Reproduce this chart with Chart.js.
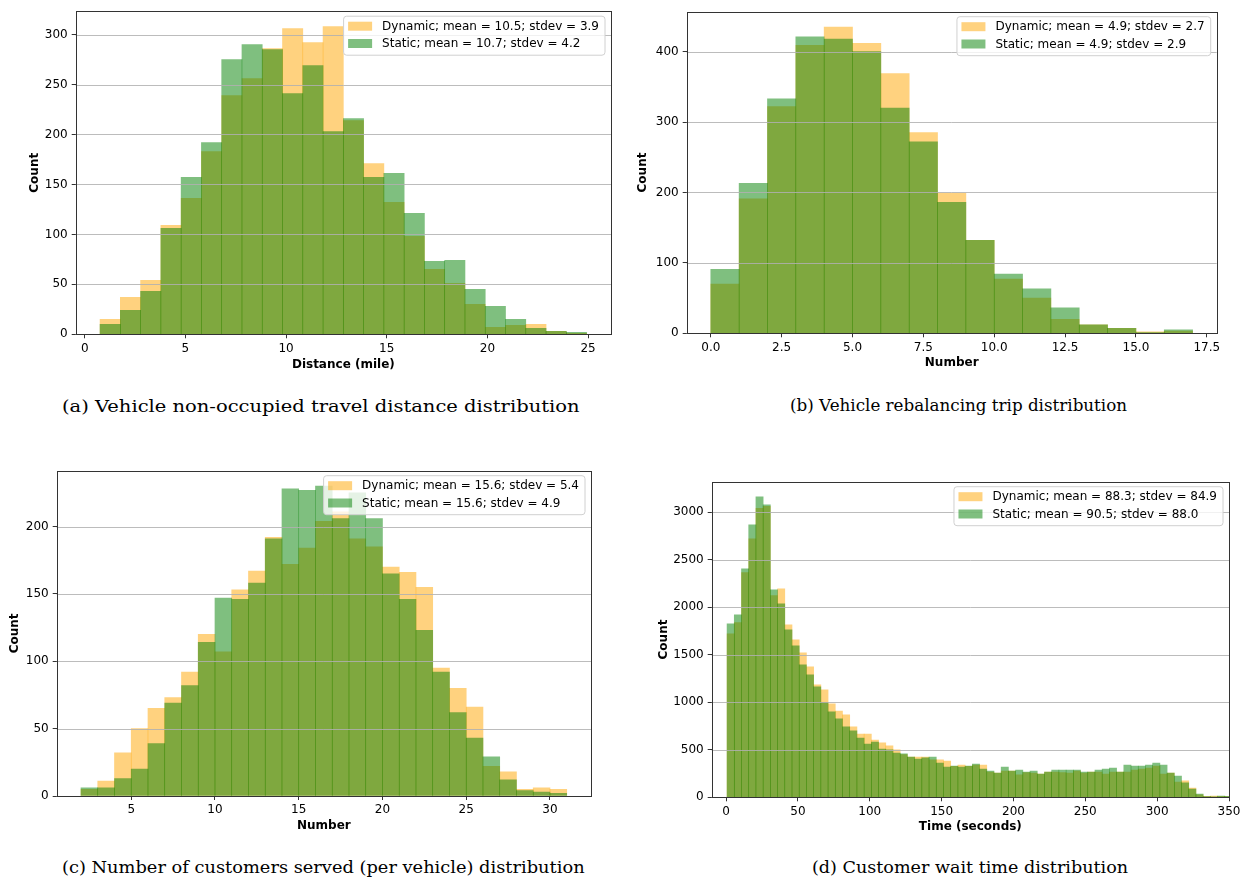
<!DOCTYPE html>
<html>
<head>
<meta charset="utf-8">
<script src="https://cdn.jsdelivr.net/npm/chart.js@4.4.0/dist/chart.umd.min.js"></script>
<style>
  body { margin: 0; background: #fff; }
  #page { position: relative; width: 1246px; height: 879px; overflow: hidden; }
  canvas { position: absolute; }
  .cap { position: absolute; white-space: nowrap; font-family: "DejaVu Serif", serif; font-size: 16.8px;
         line-height: 16.8px; color: #000; transform-origin: 0 50%; }
</style>
</head>
<body>
<div id="page">
  <canvas id="chartA" width="623" height="385" style="left:0px;top:0px"></canvas>
  <canvas id="chartB" width="623" height="385" style="left:623px;top:0px"></canvas>
  <canvas id="chartC" width="623" height="405" style="left:0px;top:440px"></canvas>
  <canvas id="chartD" width="623" height="405" style="left:623px;top:440px"></canvas>
  <div class="cap" id="capA" data-w="518" style="left:62px;top:398px">(a) Vehicle non-occupied travel distance distribution</div>
  <div class="cap" id="capB" data-w="337" style="left:790px;top:397px">(b) Vehicle rebalancing trip distribution</div>
  <div class="cap" id="capC" data-w="523" style="left:62px;top:859px">(c) Number of customers served (per vehicle) distribution</div>
  <div class="cap" id="capD" data-w="316" style="left:812px;top:859px">(d) Customer wait time distribution</div>
</div>
<script>
// (a) non-occupied travel distance, bins of ~1 mile starting at 0.76
const distBinStart = 0.76, distBinWidth = 1.007;
const distDynamic = [15, 37, 54, 109, 136, 183, 239, 256, 286, 306, 292, 308, 214, 171, 132, 98, 65, 51, 30, 7, 9, 10, 3, 1];
const distStatic  = [10, 24, 43, 106, 157, 192, 275, 290, 285, 241, 269, 203, 216, 157, 161, 121, 73, 74, 45, 28, 15, 6, 3, 2];
const distXTicks = [0, 5, 10, 15, 20, 25];
const distYTicks = [0, 50, 100, 150, 200, 250, 300];

// (b) rebalancing trips, bins 0-1 ... 16-17
const rebBinStart = 0, rebBinWidth = 1;
const rebDynamic = [70, 191, 322, 409, 435, 412, 369, 285, 199, 132, 77, 50, 20, 12, 7, 2, 3];
const rebStatic  = [91, 213, 333, 421, 418, 400, 320, 272, 186, 132, 84, 63, 36, 12, 7, 1, 5];
const rebXTicks = [0, 2.5, 5, 7.5, 10, 12.5, 15, 17.5];
const rebXLabels = ['0.0', '2.5', '5.0', '7.5', '10.0', '12.5', '15.0', '17.5'];
const rebYTicks = [0, 100, 200, 300, 400];

// (c) customers served per vehicle, bins 2-3 ... 30-31
const custBinStart = 2, custBinWidth = 1;
const custDynamic = [5, 11, 32, 50, 65, 73, 92, 120, 107, 153, 167, 192, 172, 184, 204, 211, 191, 185, 170, 166, 155, 95, 80, 66, 22, 18, 5, 6, 5];
const custStatic  = [6, 6, 13, 20, 39, 69, 82, 114, 147, 146, 158, 191, 228, 227, 230, 206, 225, 206, 165, 146, 123, 92, 62, 43, 29, 12, 4, 3, 2];
const custXTicks = [5, 10, 15, 20, 25, 30];
const custYTicks = [0, 50, 100, 150, 200];

// (d) customer wait time, 5 s bins
const waitBinStart = 0.7, waitBinWidth = 5.02;
const waitDynamic = [1719, 1838, 2364, 2719, 3038, 3060, 2122, 2193, 1814, 1656,
  1519, 1372, 1182, 1130, 982, 908, 866, 740, 666, 666,
  603, 572, 540, 498, 450, 424, 424, 424, 393, 393,
  382, 325, 340, 325, 340, 340, 266, 256, 277, 277,
  235, 259, 256, 245, 266, 266, 260, 256, 277, 256,
  266, 266, 245, 266, 266, 266, 287, 298, 308, 329,
  245, 256, 161, 172, 98, 25, 10, 14, 10, 8];
const waitStatic = [1824, 1919, 2403, 2866, 3161, 3077, 2182, 2035, 1761, 1593,
  1393, 1287, 1161, 1000, 898, 824, 740, 698, 624, 561,
  582, 508, 498, 466, 456, 424, 403, 414, 424, 361,
  319, 329, 319, 329, 350, 298, 277, 256, 319, 277,
  287, 266, 277, 245, 266, 287, 287, 287, 287, 266,
  266, 287, 298, 308, 266, 340, 329, 329, 340, 361,
  340, 256, 224, 151, 87, 35, 8, 6, 12, 10];
const waitXTicks = [0, 50, 100, 150, 200, 250, 300, 350];
const waitYTicks = [0, 500, 1000, 1500, 2000, 2500, 3000];

const orangeFill = 'rgba(255, 165, 0, 0.5)';
const greenFill = 'rgba(0, 128, 0, 0.5)';
const axisFont = 'DejaVu Sans';
const fontSize = 12;

function binCenters(start, width, n) {
  const xs = [];
  for (let i = 0; i < n; i++) xs.push(start + width * (i + 0.5));
  return xs;
}

// grid on top of the bars, full frame and a matplotlib-like legend box
const overlayPlugin = {
  id: 'overlay',
  afterDatasetsDraw(chart) {
    const ctx = chart.ctx;
    const a = chart.chartArea;
    const ys = chart.scales.y;
    ctx.save();
    ctx.strokeStyle = 'rgba(176, 176, 176, 0.85)';
    ctx.lineWidth = 1;
    ys.ticks.forEach((t) => {
      const py = Math.round(ys.getPixelForValue(t.value)) + 0.5;
      ctx.beginPath();
      ctx.moveTo(a.left, py);
      ctx.lineTo(a.right, py);
      ctx.stroke();
    });
    ctx.strokeStyle = '#333';
    ctx.lineWidth = 1;
    ctx.strokeRect(Math.round(a.left) + 0.5, Math.round(a.top) + 0.5,
      Math.round(a.right) - Math.round(a.left), Math.round(a.bottom) - Math.round(a.top));

    // legend
    const sets = chart.data.datasets;
    ctx.font = fontSize + 'px ' + axisFont;
    let textW = 0;
    sets.forEach((d) => { textW = Math.max(textW, ctx.measureText(d.label).width); });
    const w = 4.5 + 24 + 10 + textW + 6;
    const h = 39;
    const x = a.right - 6 - w;
    const y = a.top + 5;
    ctx.beginPath();
    ctx.roundRect(x, y, w, h, 3);
    ctx.fillStyle = 'rgba(255, 255, 255, 0.8)';
    ctx.fill();
    ctx.strokeStyle = '#d0d0d0';
    ctx.stroke();
    sets.forEach((d, i) => {
      const cy = y + 10 + i * 17.3;
      ctx.fillStyle = d.backgroundColor;
      ctx.fillRect(x + 4.5, cy - 4.5, 24, 9);
      ctx.fillStyle = '#000';
      ctx.textBaseline = 'middle';
      ctx.fillText(d.label, x + 38.5, cy + 0.5);
    });
    ctx.restore();
  }
};

function makeHist(id, cfg) {
  const xs = binCenters(cfg.binStart, cfg.binWidth, cfg.dynamic.length);
  const fontObj = { family: axisFont, size: fontSize };
  return new Chart(document.getElementById(id), {
    type: 'bar',
    data: {
      datasets: [{
        label: cfg.labels[0],
        data: cfg.dynamic.map((v, i) => ({ x: xs[i], y: v })),
        backgroundColor: orangeFill,
        borderWidth: 0,
        grouped: false,
        barPercentage: 1,
        categoryPercentage: 1,
        order: 2
      }, {
        label: cfg.labels[1],
        data: cfg.static.map((v, i) => ({ x: xs[i], y: v })),
        backgroundColor: greenFill,
        borderWidth: 0,
        grouped: false,
        barPercentage: 1,
        categoryPercentage: 1,
        order: 1
      }]
    },
    options: {
      responsive: false,
      animation: false,
      layout: { padding: { left: 0, top: cfg.padTop, right: cfg.padRight, bottom: 0 } },
      plugins: { legend: { display: false }, tooltip: { enabled: false } },
      scales: {
        x: {
          type: 'linear',
          offset: false,
          min: cfg.xMin,
          max: cfg.xMax,
          afterBuildTicks: (s) => { s.ticks = cfg.xTicks.map((v) => ({ value: v })); },
          afterFit: (s) => { s.height = cfg.xHeight; },
          ticks: {
            autoSkip: false, maxRotation: 0, padding: 3, color: '#000', font: fontObj,
            callback: (v, i) => (cfg.xLabels ? cfg.xLabels[i] : String(cfg.xTicks[i]))
          },
          grid: { offset: false, drawOnChartArea: false, drawTicks: true, tickLength: 4, color: '#333' },
          border: { display: false },
          title: { display: true, text: cfg.xTitle, color: '#000',
            font: { family: axisFont, size: fontSize, weight: 'bold' },
            padding: { top: 0, bottom: cfg.xTitlePad } }
        },
        y: {
          type: 'linear',
          min: 0,
          max: cfg.yMax,
          afterBuildTicks: (s) => { s.ticks = cfg.yTicks.map((v) => ({ value: v })); },
          afterFit: (s) => { s.width = cfg.yWidth; },
          ticks: { padding: 4, color: '#000', font: fontObj, callback: (v) => String(v) },
          grid: { drawOnChartArea: false, drawTicks: true, tickLength: 4, color: '#333' },
          border: { display: false },
          title: { display: true, text: 'Count', color: '#000',
            font: { family: axisFont, size: fontSize, weight: 'bold' },
            padding: { top: cfg.yTitlePad, bottom: 0 } }
        }
      }
    },
    plugins: [overlayPlugin]
  });
}

makeHist('chartA', {
  binStart: distBinStart, binWidth: distBinWidth, dynamic: distDynamic, static: distStatic,
  labels: ['Dynamic; mean = 10.5; stdev = 3.9', 'Static; mean = 10.7; stdev = 4.2'],
  xMin: -0.45, xMax: 26.14, yMax: 323.4, xTicks: distXTicks, yTicks: distYTicks,
  xTitle: 'Distance (mile)', padTop: 10, padRight: 12, xHeight: 50.7, yWidth: 75.7,
  xTitlePad: 12.8, yTitlePad: 27.8
});

makeHist('chartB', {
  binStart: rebBinStart, binWidth: rebBinWidth, dynamic: rebDynamic, static: rebStatic,
  labels: ['Dynamic; mean = 4.9; stdev = 2.7', 'Static; mean = 4.9; stdev = 2.9'],
  xMin: -0.85, xMax: 17.85, yMax: 456.75, xTicks: rebXTicks, xLabels: rebXLabels, yTicks: rebYTicks,
  xTitle: 'Number', padTop: 11.7, padRight: 29.3, xHeight: 51.7, yWidth: 63.7,
  xTitlePad: 14.8, yTitlePad: 12.8
});

makeHist('chartC', {
  binStart: custBinStart, binWidth: custBinWidth, dynamic: custDynamic, static: custStatic,
  labels: ['Dynamic; mean = 15.6; stdev = 5.4', 'Static; mean = 15.6; stdev = 4.9'],
  xMin: 0.55, xMax: 32.45, yMax: 241.5, xTicks: custXTicks, yTicks: custYTicks,
  xTitle: 'Number', padTop: 30.7, padRight: 32, xHeight: 49, yWidth: 56.7,
  xTitlePad: 11.8, yTitlePad: 7.8
});

makeHist('chartD', {
  binStart: waitBinStart, binWidth: waitBinWidth, dynamic: waitDynamic, static: waitStatic,
  labels: ['Dynamic; mean = 88.3; stdev = 84.9', 'Static; mean = 90.5; stdev = 88.0'],
  xMin: -10, xMax: 350, yMax: 3319, xTicks: waitXTicks, yTicks: waitYTicks,
  xTitle: 'Time (seconds)', padTop: 41.7, padRight: 17, xHeight: 47.7, yWidth: 88.7,
  xTitlePad: 10.8, yTitlePad: 33.3
});

// stretch the captions to the width they take in the figure
document.querySelectorAll('.cap').forEach((el) => {
  const target = Number(el.dataset.w);
  const s = target / el.offsetWidth;
  el.style.transform = 'scaleX(' + s.toFixed(4) + ')';
});
</script>
</body>
</html>
